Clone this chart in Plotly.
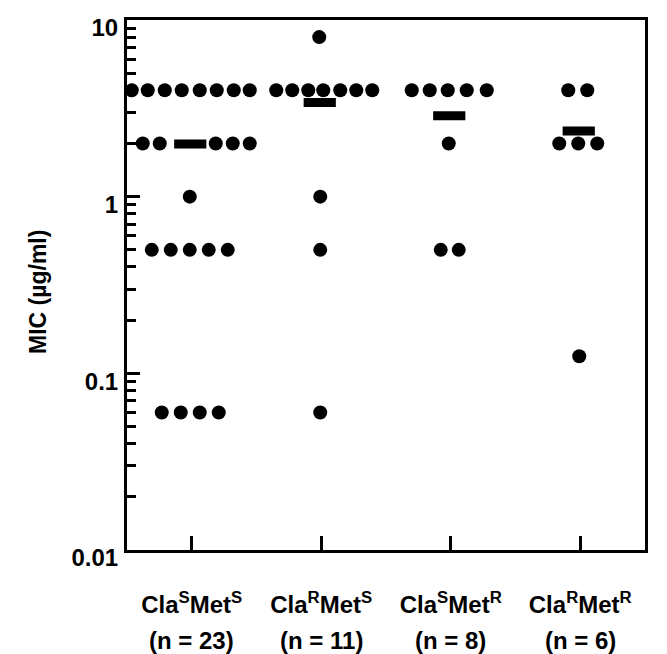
import plotly.graph_objects as go
import numpy as np

# ---------------- data ----------------
categories = ["Cla<sup>S</sup>Met<sup>S</sup>", "Cla<sup>R</sup>Met<sup>S</sup>",
              "Cla<sup>S</sup>Met<sup>R</sup>", "Cla<sup>R</sup>Met<sup>R</sup>"]
n_labels = ["(n = 23)", "(n = 11)", "(n = 8)", "(n = 6)"]

mic_cla_s_met_s = [4, 4, 4, 4, 4, 4, 4, 4,
                   2, 2, 2, 2, 2,
                   1,
                   0.5, 0.5, 0.5, 0.5, 0.5,
                   0.06, 0.06, 0.06, 0.06]
mic_cla_r_met_s = [8,
                   4, 4, 4, 4, 4, 4, 4,
                   1, 0.5, 0.06]
mic_cla_s_met_r = [4, 4, 4, 4, 4,
                   2,
                   0.5, 0.5]
mic_cla_r_met_r = [4, 4,
                   2, 2, 2,
                   0.125]

y_tick_vals = [0.01, 0.1, 1, 10]
y_tick_text = ["0.01", "0.1", "1", "10"]
y_title = "MIC (µg/ml)"

# ---------------- layout of the dots (horizontal spread, pixels) ----------------
spread_px = [
    [-60, -44, -27, -10, 8, 25, 42, 58, -49, -32, 24, 41, 58, -2,
     -40, -21, -2, 17, 36, -30, -11, 8, 27],
    [-2, -45, -29, -13, 2, 19, 35, 51, -1, -1, -1],
    [-39, -21, -3, 16, 36, -2, -10, 8],
    [-12, 7, -21, -2, 17, -1],
]
mean_shift_px = -1.5

# page body has an 8px margin; figure placed so the plot box sits at x 127..645, y 20..550
W, H = 659, 646
ML, MR, MT, MB = 119, 22, 12, 104
plot_w = W - ML - MR
plot_h = H - MT - MB
px_per_cat = plot_w / 4.0

groups = [mic_cla_s_met_s, mic_cla_r_met_s, mic_cla_s_met_r, mic_cla_r_met_r]

fig = go.Figure()

dx, dy = [], []
for i, (vals, offs) in enumerate(zip(groups, spread_px)):
    for v, o in zip(vals, offs):
        dx.append(i + o / px_per_cat)
        dy.append(v)

fig.add_trace(go.Scatter(
    x=dx, y=dy, mode="markers",
    marker=dict(symbol="circle", size=14, color="black", line=dict(width=0)),
    showlegend=False, hoverinfo="y"))

means = [float(np.mean(g)) for g in groups]
fig.add_trace(go.Scatter(
    x=[i + mean_shift_px / px_per_cat for i in range(4)], y=means, mode="markers",
    marker=dict(symbol="line-ew", size=23, color="black",
                line=dict(width=9, color="black")),
    showlegend=False, hoverinfo="y"))

fam = "Liberation Sans, Arial, sans-serif"
font_t = dict(family=fam, size=24, color="black", weight="bold")
font_title = dict(family=fam, size=23, color="black", weight="bold")

fig.update_layout(
    width=W, height=H,
    margin=dict(l=ML, r=MR, t=MT, b=MB, autoexpand=False),
    paper_bgcolor="white", plot_bgcolor="white",
    font=font_t,
    showlegend=False,
    xaxis=dict(
        range=[-0.5, 3.5], tickmode="array", tickvals=[0, 1, 2, 3], ticktext=categories,
        ticks="inside", ticklen=14, tickwidth=3, tickcolor="black",
        showline=True, linewidth=3, linecolor="black", mirror=True,
        showgrid=False, zeroline=False, tickfont=font_t,
        ticklabelstandoff=31,
    ),
    yaxis=dict(
        type="log", range=[-2, 1], tickmode="array", tickvals=y_tick_vals, ticktext=y_tick_text,
        ticks="inside", ticklen=13, tickwidth=3, tickcolor="black",
        minor=dict(ticks="inside", ticklen=9, tickwidth=3, tickcolor="black", dtick="D1", showgrid=False),
        showline=True, linewidth=3, linecolor="black", mirror=True,
        showgrid=False, zeroline=False, tickfont=font_t,
        ticklabelstandoff=1,
        ticklabelshift=8,
    ),
)

# y-axis title (rotated)
fig.add_annotation(x=-89 / plot_w, xref="paper", y=(258) / plot_h, yref="paper",
                   text=y_title, textangle=-90, showarrow=False, font=font_title,
                   xanchor="center", yanchor="middle")

for i, t in enumerate(n_labels):
    fig.add_annotation(x=i, xref="x", y=-90 / plot_h, yref="paper",
                       text=t, showarrow=False, font=font_t, yanchor="middle", xanchor="center")

fig.write_html("out.html")
